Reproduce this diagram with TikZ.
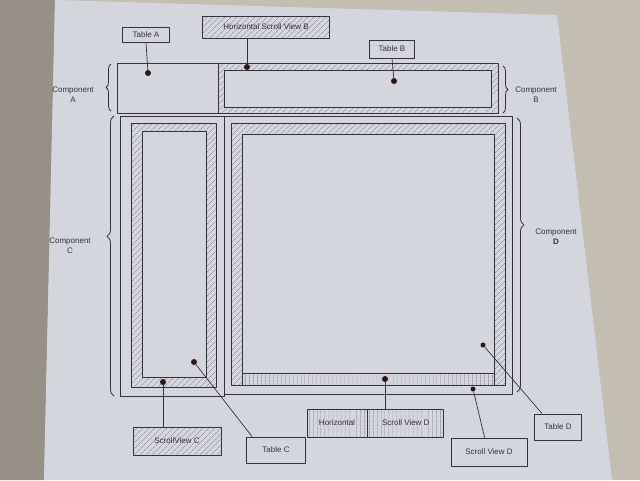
\documentclass[tikz,border=0pt]{standalone}
\usepackage{fontspec}
\setmainfont{Liberation Sans}
\usetikzlibrary{patterns.meta,decorations.pathreplacing,calc}
\definecolor{bgc}{RGB}{196,189,177}
\definecolor{bgl}{RGB}{150,144,134}
\definecolor{paperc}{RGB}{211,214,221}
\definecolor{inkc}{RGB}{50,50,62}
\definecolor{dotc}{RGB}{45,22,22}
\begin{document}
\begin{tikzpicture}[x=1pt,y=-1pt,line join=round,
  ink/.style={draw=inkc,line width=0.8pt},
  hatch/.style={pattern={Lines[angle=45,distance=4pt,line width=0.45pt]},pattern color=inkc!65},
  vhatch/.style={pattern={Lines[angle=90,distance=4pt,line width=0.45pt]},pattern color=inkc!65},
  lbl/.style={draw=inkc,line width=0.8pt,font=\fontsize{8}{9}\selectfont,text=inkc,inner sep=2pt},
  plbl/.style={lbl,fill=paperc},
  hlbl/.style={lbl,preaction={fill=paperc},hatch},
  vlbl/.style={lbl,preaction={fill=paperc},vhatch},
  dotn/.style={circle,fill=dotc,inner sep=0pt,minimum size=6pt},
  conn/.style={draw=inkc,line width=0.7pt},
  brc/.style={draw=inkc,line width=0.8pt,decorate,decoration={brace,amplitude=#1}},
  brc/.default=5pt,
  cmp/.style={font=\fontsize{8}{10}\selectfont,text=inkc,align=center}]
\useasboundingbox (0,0) rectangle (640,480);
\fill[bgc] (0,0) rectangle (640,480);
\fill[bgl] (0,0) -- (55,0) -- (44,480) -- (0,480) -- cycle;
\fill[paperc] (55,0) -- (557,15) -- (612,480) -- (44,480) -- cycle;

% Component A (Table A)
\draw[ink] (117,63) rectangle (218,113);
% Horizontal Scroll View B with Table B
\fill[hatch,even odd rule] (218,63) rectangle (498,113) (224,70) rectangle (491,107);
\draw[ink] (218,63) rectangle (498,113);
\draw[ink] (224,70) rectangle (491,107);

% Component C
\draw[ink] (120,116) rectangle (224,396);
\fill[hatch,even odd rule] (131,123) rectangle (216,387) (142,131) rectangle (206,377);
\draw[ink] (131,123) rectangle (216,387);
\draw[ink] (142,131) rectangle (206,377);

% Component D
\draw[ink] (224,116) rectangle (512,394);
\fill[hatch,even odd rule] (231,123) rectangle (505,385) (242,134) rectangle (494,385);
\fill[vhatch] (242,373) rectangle (494,385);
\draw[ink] (231,123) rectangle (505,385);
\draw[ink] (242,134) rectangle (494,385);
\draw[ink] (242,373) -- (494,373);

% braces
\draw[brc] (111,111) -- (111,64);
\draw[brc] (503,66) -- (503,113);
\draw[brc=7pt,decoration={aspect=0.57}] (114,396) -- (114,116);
\draw[brc=7pt,decoration={aspect=0.39}] (517,118) -- (517,392);

\node[cmp] (cA) at (73,95) {Component\\A};
\node[cmp] (cB) at (536,95) {Component\\B};
\node[cmp] (cC) at (70,246) {Component\\C};
\node[cmp] (cD) at (556,237) {Component\\\textbf{D}};

% dots
\node[dotn] (dA) at (148,73) {};
\node[dotn] (dHB) at (247,67) {};
\node[dotn] (dB) at (394,81) {};
\node[dotn] (dSC) at (163,382) {};
\node[dotn] (dC) at (194,362) {};
\node[dotn] (dHD) at (385,379) {};
\node[dotn,minimum size=5pt] (dSD) at (473,389) {};
\node[dotn,minimum size=5pt] (dD) at (483,345) {};

% labels
\node[plbl,minimum width=47pt,minimum height=15pt] (ta) at (146,35) {Table A};
\node[hlbl,minimum width=127pt,minimum height=22pt] (hsvb) at (266,27) {Horizontal Scroll View B};
\node[plbl,minimum width=45pt,minimum height=18pt] (tb) at (392,49) {Table B};
\node[hlbl,minimum width=88pt,minimum height=28pt] (svc) at (177,441) {ScrollView C};
\node[plbl,minimum width=59pt,minimum height=26pt] (tc) at (276,450) {Table C};
\node[vlbl,minimum width=60pt,minimum height=28pt] (hsvd1) at (337,423) {Horizontal};
\node[vlbl,minimum width=76pt,minimum height=28pt,anchor=west] (hsvd2) at (hsvd1.east) {Scroll View D};
\node[plbl,minimum width=76pt,minimum height=28pt] (svd) at (489,452) {Scroll View D};
\node[plbl,minimum width=47pt,minimum height=26pt] (td) at (558,427) {Table D};

% connectors
\draw[conn] (ta.south) -- (dA);
\draw[conn] (dHB |- hsvb.south) -- (dHB);
\draw[conn] (tb.south) -- (dB);
\draw[conn] (dSC) -- (dSC |- svc.north);
\draw[conn] (dC) -- ($(tc.north west)+(6,0)$);
\draw[conn] (dHD) -- (dHD |- hsvd2.north);
\draw[conn] (dSD) -- ($(svd.north west)+(34,0)$);
\draw[conn] (dD) -- ($(td.north west)+(8,0)$);
\end{tikzpicture}
\end{document}
